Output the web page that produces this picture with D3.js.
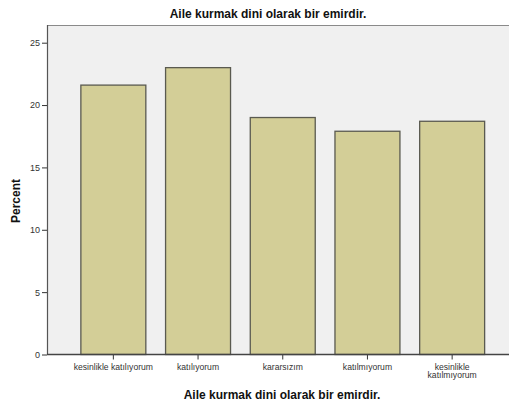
<!DOCTYPE html>
<html><head><meta charset="utf-8">
<script src="https://cdn.jsdelivr.net/npm/d3@7"></script>
<style>body{margin:0;background:#fff}svg{display:block}text{font-family:"Liberation Sans",Arial,sans-serif}</style>
</head><body>
<script>
const categories = ["kesinlikle katılıyorum","katılıyorum","kararsızım","katılmıyorum","kesinlikle katılmıyorum"];
const values = [21.6, 23.0, 19.0, 17.9, 18.7];
const yTicks = [0,5,10,15,20,25];
const title = "Aile kurmak dini olarak bir emirdir.";
const xTitle = "Aile kurmak dini olarak bir emirdir.";
const yTitle = "Percent";

const W=509,H=409;
const svg=d3.select("body").append("svg").attr("width",W).attr("height",H);
const plot={l:47,t:25,r:509,b:354.5};
const y=d3.scaleLinear().domain([0,25]).range([354.5,42.7]);
const x=d3.scaleBand().domain(categories).range([71,494.5]).paddingInner(0.233).paddingOuter(0.1165);

svg.append("rect").attr("x",plot.l).attr("y",plot.t).attr("width",plot.r-plot.l).attr("height",plot.b-plot.t).attr("fill","#f0f0f0");
svg.append("line").attr("x1",plot.l).attr("x2",plot.r).attr("y1",plot.t+0.5).attr("y2",plot.t+0.5).attr("stroke","#8a8a8a").attr("stroke-width",1.2);

svg.selectAll("rect.bar").data(values).enter().append("rect").attr("class","bar")
 .attr("x",(d,i)=>x(categories[i])).attr("width",x.bandwidth())
 .attr("y",d=>y(d)).attr("height",d=>y(0)-y(d))
 .attr("fill","#d3ce97").attr("stroke","#5a5a50").attr("stroke-width",1.3);

const ya=svg.append("g").attr("transform",`translate(${plot.l},0)`)
 .call(d3.axisLeft(y).tickValues(yTicks).tickSize(5).tickSizeOuter(0).tickPadding(2));
ya.select(".domain").remove();
ya.selectAll("line").attr("stroke","#333");
ya.selectAll("text").attr("font-size",9).attr("fill","#333");
svg.append("line").attr("x1",plot.l+0.5).attr("x2",plot.l+0.5).attr("y1",plot.t).attr("y2",plot.b).attr("stroke","#555").attr("stroke-width",1.2);

const xa=svg.append("g").attr("transform",`translate(0,${plot.b})`)
 .call(d3.axisBottom(x).tickSize(5).tickSizeOuter(0).tickPadding(4));
xa.select(".domain").remove();
xa.selectAll("line").attr("stroke","#333");
xa.selectAll("text").attr("font-size",8.6).attr("fill","#333").each(function(d){
  if(d==="kesinlikle katılmıyorum"){
    const t=d3.select(this); t.text(null);
    t.append("tspan").attr("x",0).attr("dy","0.71em").text("kesinlikle");
    t.append("tspan").attr("x",0).attr("dy","1.0em").text("katılmıyorum");
    t.attr("dy",null);
  }
});
svg.append("line").attr("x1",plot.l).attr("x2",plot.r).attr("y1",plot.b).attr("y2",plot.b).attr("stroke","#444").attr("stroke-width",1.3);

svg.append("text").attr("x",268).attr("y",18).attr("text-anchor","middle").attr("font-size",12).attr("font-weight","bold").attr("fill","#111").text(title);
svg.append("text").attr("x",282).attr("y",399).attr("text-anchor","middle").attr("font-size",12).attr("font-weight","bold").attr("fill","#111").text(xTitle);
svg.append("text").attr("transform","translate(20,201) rotate(-90)").attr("text-anchor","middle").attr("font-size",12).attr("font-weight","bold").attr("fill","#111").text(yTitle);
</script>
</body></html>
